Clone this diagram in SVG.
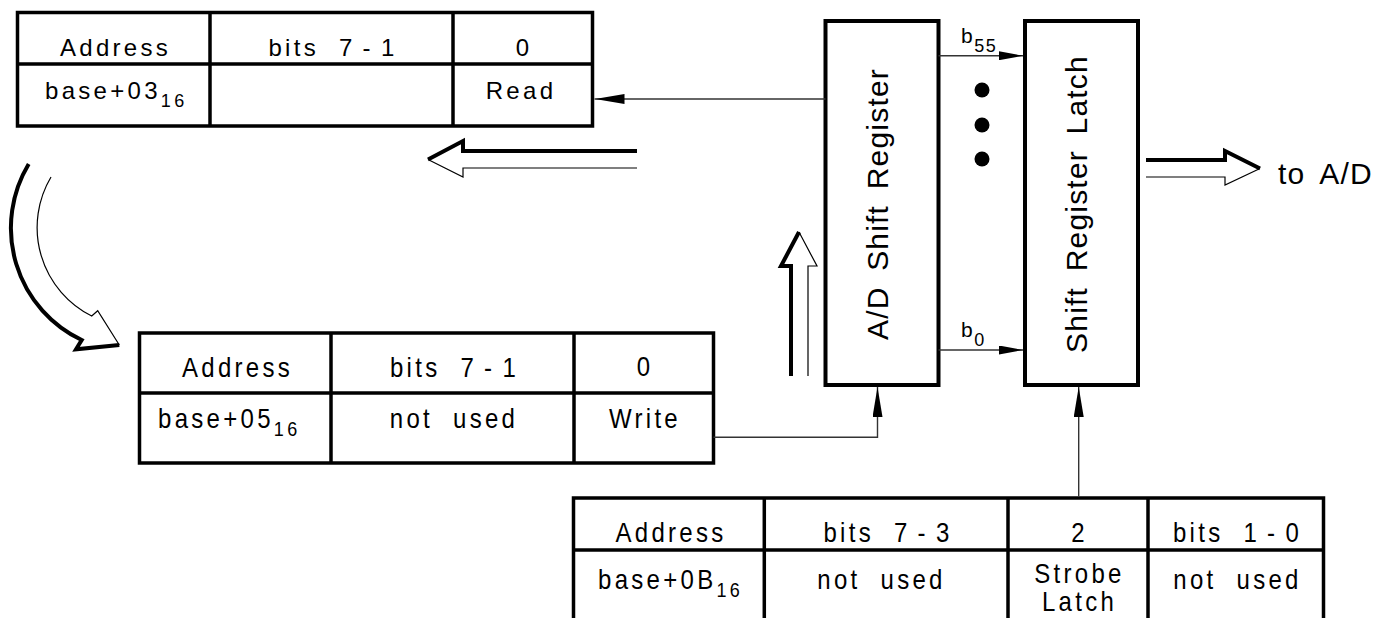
<svg xmlns="http://www.w3.org/2000/svg" width="1381" height="618" viewBox="0 0 1381 618">
<style>
.tb{fill:#fff;stroke:#000;stroke-width:3.5}
.tl{stroke:#000;stroke-width:3.5;fill:none}
.bx{fill:#fff;stroke:#000;stroke-width:4}
.t{font-family:"Liberation Sans",Arial,sans-serif;font-size:24px;letter-spacing:3.3px;word-spacing:10px;fill:#000}
.big{font-size:30px;letter-spacing:1.2px;word-spacing:6px}
.sub{font-size:18px}
.c{text-anchor:middle}
.wire{fill:none;stroke:#333;stroke-width:1.4}
.hk{fill:none;stroke:#000;stroke-width:4;stroke-linejoin:miter}
.hn{fill:none;stroke:#000;stroke-width:1.2}
.lbl{font-family:"Liberation Sans",Arial,sans-serif;font-size:21px;letter-spacing:1.5px;fill:#000}
</style>
<defs>
<marker id="ah" viewBox="0 0 30 10" refX="30" refY="5" markerWidth="30" markerHeight="10" markerUnits="userSpaceOnUse" orient="auto"><path d="M0,0 L30,5 L0,10 z" fill="#000"/></marker>
<marker id="ahs" viewBox="0 0 24 9" refX="24" refY="4.5" markerWidth="24" markerHeight="9" markerUnits="userSpaceOnUse" orient="auto"><path d="M0,0 L24,4.5 L0,9 z" fill="#000"/></marker>
</defs>

<g id="table-base03">
<rect class="tb" x="17.5" y="12.5" width="575" height="113.5"/>
<line class="tl" x1="17.5" y1="64" x2="592.5" y2="64"/>
<line class="tl" x1="210" y1="12.5" x2="210" y2="126"/>
<line class="tl" x1="453" y1="12.5" x2="453" y2="126"/>
<text class="t c" x="115.5" y="56">Address</text>
<text class="t c" x="333" y="56">bits 7<tspan dx="7">-</tspan><tspan dx="7">1</tspan></text>
<text class="t c" x="524" y="56">0</text>
<text class="t" x="45" y="99">base+03<tspan class="sub" dy="8">16</tspan></text>
<text class="t c" x="521" y="99">Read</text>
</g>

<g id="table-base05">
<rect class="tb" x="139.5" y="333" width="574" height="130"/>
<line class="tl" x1="139.5" y1="393" x2="713.5" y2="393"/>
<line class="tl" x1="331" y1="333" x2="331" y2="463"/>
<line class="tl" x1="574" y1="333" x2="574" y2="463"/>
<text class="t c" transform="translate(237.5,376.7) scale(1,1.15)">Address</text>
<text class="t c" transform="translate(454.5,376.7) scale(1,1.15)">bits 7<tspan dx="7">-</tspan><tspan dx="7">1</tspan></text>
<text class="t c" transform="translate(645,376.2) scale(1,1.15)">0</text>
<text class="t" transform="translate(158,428) scale(1,1.15)">base+05<tspan class="sub" dy="7">16</tspan></text>
<text class="t c" transform="translate(454,428) scale(1,1.15)">not used</text>
<text class="t c" transform="translate(645,427.5) scale(1,1.15)">Write</text>
</g>

<g id="table-base0B">
<rect class="tb" x="573.5" y="498" width="750" height="123"/>
<line class="tl" x1="573.5" y1="550" x2="1323.5" y2="550"/>
<line class="tl" x1="764.3" y1="498" x2="764.3" y2="621"/>
<line class="tl" x1="1008" y1="498" x2="1008" y2="621"/>
<line class="tl" x1="1148" y1="498" x2="1148" y2="621"/>
<text class="t c" transform="translate(671,541.5) scale(1,1.15)">Address</text>
<text class="t c" transform="translate(888,541.5) scale(1,1.15)">bits 7<tspan dx="7">-</tspan><tspan dx="7">3</tspan></text>
<text class="t c" transform="translate(1079.5,542) scale(1,1.15)">2</text>
<text class="t c" transform="translate(1237.5,541.5) scale(1,1.15)">bits 1<tspan dx="7">-</tspan><tspan dx="7">0</tspan></text>
<text class="t" transform="translate(598,588.7) scale(1,1.15)">base+0B<tspan class="sub" dy="7">16</tspan></text>
<text class="t c" transform="translate(881.5,588.7) scale(1,1.15)">not used</text>
<text class="t c" transform="translate(1079.5,583.3) scale(1,1.15)">Strobe</text>
<text class="t c" transform="translate(1079.5,610.7) scale(1,1.15)">Latch</text>
<text class="t c" transform="translate(1237.5,588.7) scale(1,1.15)">not used</text>
</g>

<g id="ad-shift-register">
<rect class="bx" x="825.5" y="21" width="113" height="364"/>
<text class="t big c" transform="translate(888,204) rotate(-90)">A/D Shift Register</text>
</g>

<g id="shift-register-latch">
<rect class="bx" x="1025" y="21" width="113" height="364"/>
<text class="t big c" transform="translate(1087,204) rotate(-90)">Shift Register Latch</text>
</g>

<g id="to-ad">
<text class="t big" x="1278" y="184">to A/D</text>
</g>

<g id="connectors">
<path class="wire" d="M825.5,99 H594.5" marker-end="url(#ah)"/>
<path class="wire" d="M938.5,55.7 H1023" marker-end="url(#ahs)"/>
<path class="wire" d="M938.5,350 H1023" marker-end="url(#ahs)"/>
<path class="wire" d="M713.5,437.3 H877.5 V387" marker-end="url(#ah)"/>
<path class="wire" d="M1078.7,496.5 V387" marker-end="url(#ah)"/>
<text class="lbl" x="961" y="43">b<tspan class="sub" dy="9">55</tspan></text>
<text class="lbl" x="961" y="337">b<tspan class="sub" dy="9">0</tspan></text>
<circle cx="982" cy="90" r="7.5" fill="#000"/>
<circle cx="982" cy="125" r="7.5" fill="#000"/>
<circle cx="982" cy="159" r="7.5" fill="#000"/>
<path class="hk" d="M637,151 H463 V141 L428,159.5"/>
<path class="hn" d="M428,159.5 L463,177 V168 H637"/>
<path class="hk" d="M1146,160 H1225 V151 L1260,168.5"/>
<path class="hn" d="M1260,168.5 L1225,185 V177 H1146"/>
<path class="hk" d="M791,376 V266 H781 L799,232"/>
<path class="hn" d="M799,232 L817,266 H808 V376"/>
<path class="hk" d="M28.7,164 A124,124 0 0 0 81.7,340 L76,349.3 L119.3,345"/>
<path class="hn" d="M119.3,345 L97.7,310.7 L91.7,316 A99,99 0 0 1 51,177"/>
</g>
</svg>
